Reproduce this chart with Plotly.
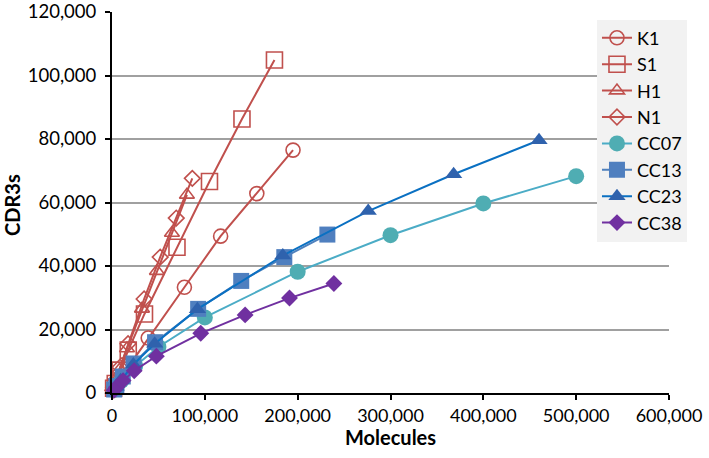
import plotly.graph_objects as go

# ---- data ----
series_names = ["K1", "S1", "H1", "N1", "CC07", "CC13", "CC23", "CC38"]

k1_x = [195000, 156000, 117000, 78000, 39000, 19500, 9750, 3900, 1950]
k1_y = [76500, 62800, 49400, 33300, 17300, 9000, 4700, 1900, 950]

s1_x = [175000, 140000, 105000, 70000, 35000, 17500, 8750, 3500, 1750]
s1_y = [104900, 86300, 66600, 45900, 24900, 13500, 7200, 3000, 1500]

h1_x = [80700, 64560, 48420, 32280, 16140, 8070, 4035, 1614, 807]
h1_y = [62400, 50400, 38400, 26500, 14000, 7300, 3800, 1550, 800]

n1_x = [86500, 69200, 51900, 34600, 17300, 8650, 4325, 1730, 865]
n1_y = [67600, 55100, 42800, 29600, 15500, 8100, 4200, 1700, 860]

cc07_x = [500000, 400000, 300000, 200000, 100000, 50000, 25000, 10000, 5000]
cc07_y = [68300, 59700, 49700, 38200, 23800, 14500, 8500, 3800, 2000]

cc13_x = [232000, 185600, 139200, 92800, 46400, 23200, 11600, 4640, 2320]
cc13_y = [49900, 42800, 35300, 26500, 16000, 9300, 5200, 2200, 1100]

cc23_x = [460000, 368000, 276000, 184000, 92000, 46000, 23000, 9200, 4600]
cc23_y = [79600, 68900, 57300, 43300, 26400, 15500, 9000, 4000, 2000]

cc38_x = [239000, 191200, 143400, 95600, 47800, 23900, 11950, 4780, 2390]
cc38_y = [34500, 29900, 24600, 18800, 11600, 7000, 3900, 1800, 900]

x_tick_vals = [0, 100000, 200000, 300000, 400000, 500000, 600000]
x_tick_text = ["0", "100,000", "200,000", "300,000", "400,000", "500,000", "600,000"]
y_tick_vals = [0, 20000, 40000, 60000, 80000, 100000, 120000]
y_tick_text = ["0", "20,000", "40,000", "60,000", "80,000", "100,000", "120,000"]

RED = "#c0504d"
FONT = "Lato"

styles = [
    (k1_x, k1_y, RED, RED, "circle-open", 14),
    (s1_x, s1_y, RED, RED, "square-open", 16),
    (h1_x, h1_y, RED, RED, "triangle-up-open", 13),
    (n1_x, n1_y, RED, RED, "diamond-open", 12),
    (cc07_x, cc07_y, "#4bacc6", "#4fadb3", "circle", 16),
    (cc13_x, cc13_y, "#4f81bd", "#4f7fbf", "square", 16),
    (cc23_x, cc23_y, "#0a70c2", "#2f62ad", "triangle-up", 15),
    (cc38_x, cc38_y, "#7030a0", "#7030a0", "diamond", 13),
]

fig = go.Figure()
for name, (xs, ys, lc, mc, sym, sz) in zip(series_names, styles):
    open_sym = sym.endswith("open")
    fig.add_trace(go.Scatter(
        x=xs, y=ys, name=name, mode="lines+markers",
        line=dict(color=lc, width=2),
        marker=dict(symbol=sym, size=sz, color=mc,
                    line=dict(color=mc, width=1.6 if open_sym else 0)),
        cliponaxis=False,
    ))

fig.update_layout(
    width=709, height=458,
    margin=dict(l=112, r=40, t=12, b=65),
    paper_bgcolor="white", plot_bgcolor="white",
    font=dict(family=FONT, size=18, color="black"),
    showlegend=True,
    legend=dict(
        x=0.8707, y=0.98, xanchor="left", yanchor="top",
        bgcolor="#f2f2f2", font=dict(family=FONT, size=18, color="black"),
        tracegroupgap=0, itemwidth=30,
    ),
    xaxis=dict(
        range=[0, 600000], tickvals=x_tick_vals, ticktext=x_tick_text,
        showgrid=False, zeroline=False, showline=True, linecolor="black",
        linewidth=2, ticks="outside", ticklen=5, tickwidth=1.5, tickcolor="black",
        tickfont=dict(family=FONT, size=18), automargin=False,
        ticklabeloverflow="allow",
    ),
    yaxis=dict(
        range=[0, 120000], tickvals=y_tick_vals, ticktext=y_tick_text,
        showgrid=True, gridcolor="#a0a0a0", gridwidth=1.5,
        zeroline=False, showline=True, linecolor="black",
        linewidth=2, ticks="outside", ticklen=5, tickwidth=1.5, tickcolor="black",
        tickfont=dict(family=FONT, size=18.5), automargin=False,
        ticklabeloverflow="allow", ticklabelstandoff=5,
    ),
    annotations=[
        dict(text="<b>Molecules</b>", xref="paper", yref="paper",
             x=0.5, y=-(437 - 393) / 381, xanchor="center", yanchor="middle",
             showarrow=False, font=dict(family=FONT, size=20)),
        dict(text="<b>CDR3s</b>", xref="paper", yref="paper",
             x=-(112 - 12) / 557, y=(393 - 205) / 381, xanchor="center", yanchor="middle",
             textangle=-90, showarrow=False, font=dict(family=FONT, size=20)),
    ],
)

fig.write_html("out.html", config={"displayModeBar": False},
               post_script="document.body.style.margin='0';")
